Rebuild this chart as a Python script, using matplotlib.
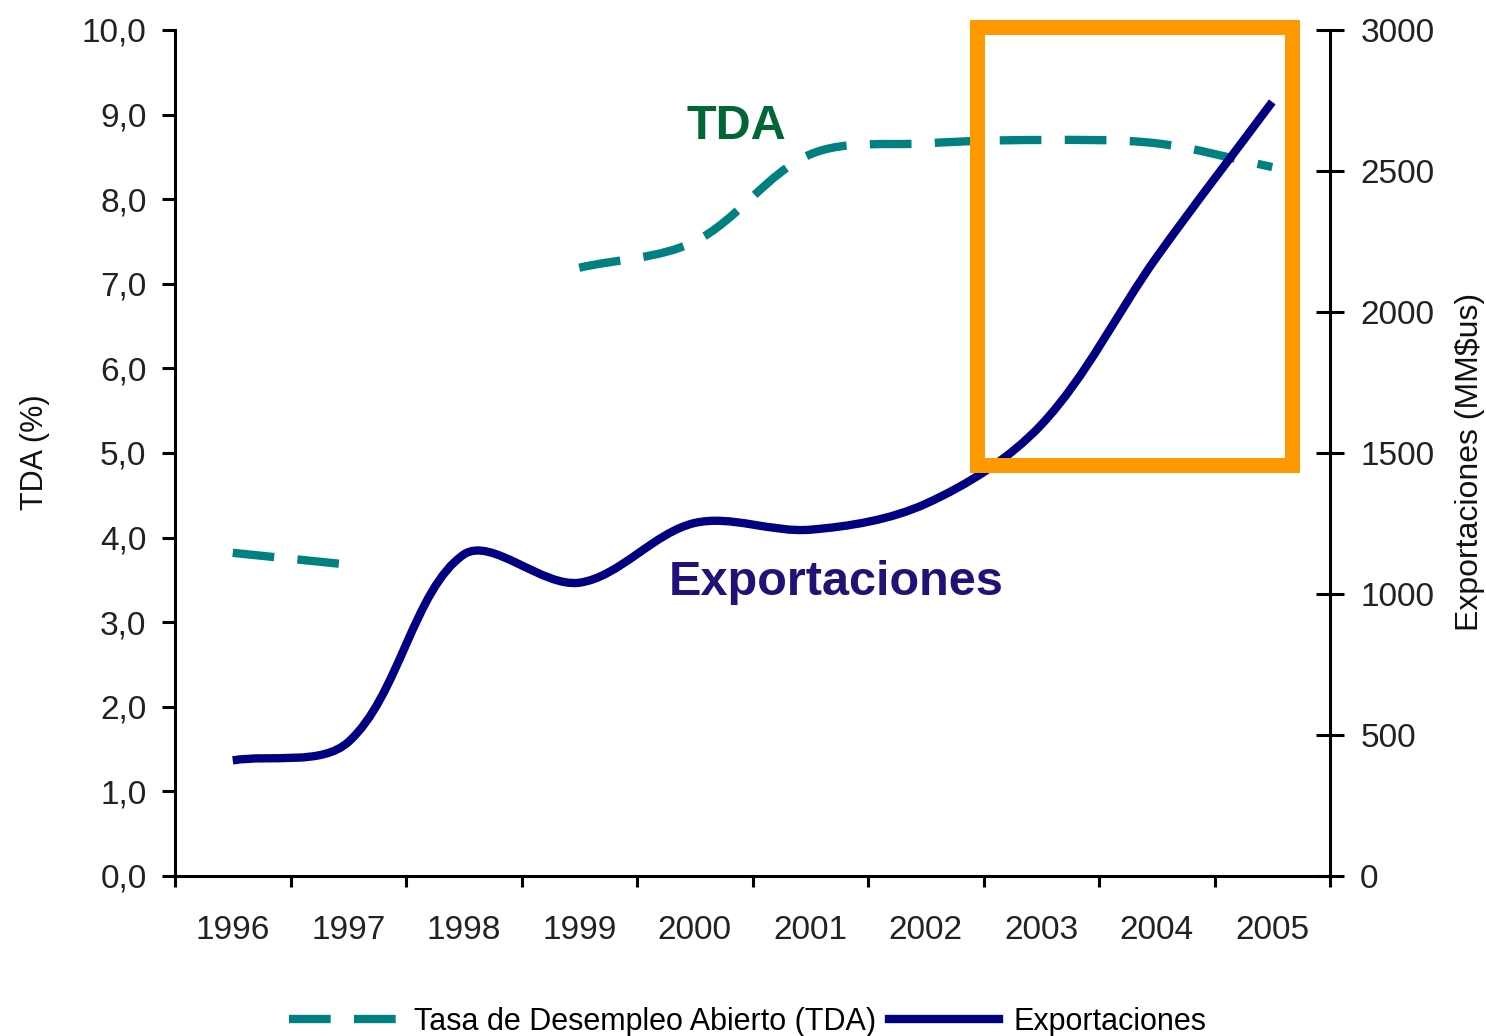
import numpy as np
import matplotlib.pyplot as plt
from matplotlib.path import Path
from matplotlib.patches import PathPatch, Rectangle
from matplotlib.lines import Line2D

plt.rcParams['font.family'] = ['Liberation Sans', 'DejaVu Sans']

anios = ['1996', '1997', '1998', '1999', '2000', '2001', '2002', '2003', '2004', '2005']
tda = [3.82, 3.68, np.nan, 7.19, 7.50, 8.53, 8.66, 8.70, 8.66, 8.38]
exportaciones = [410, 475, 1140, 1040, 1252, 1228, 1320, 1600, 2195, 2745]

color_tda = '#008080'
color_exp = '#000080'


def curva_suave(xs, ys, trans):
    # curva "suavizada" como la de Excel: Bezier con brazos proporcionales
    # a la longitud de cada tramo (calculado en pixeles)
    pts = trans.transform(np.column_stack([xs, ys]))
    n = len(pts)
    verts = [pts[0]]
    codes = [Path.MOVETO]
    for i in range(n - 1):
        p0 = pts[i - 1] if i > 0 else pts[i]
        p1 = pts[i]
        p2 = pts[i + 1]
        p3 = pts[i + 2] if i + 2 < n else pts[i + 1]
        d01 = np.hypot(*(p1 - p0))
        d12 = np.hypot(*(p2 - p1))
        d23 = np.hypot(*(p3 - p2))
        c1 = p1 + (p2 - p0) / 3 * d12 / (d01 + d12)
        c2 = p2 - (p3 - p1) / 3 * d12 / (d12 + d23)
        verts += [c1, c2, p2]
        codes += [Path.CURVE4] * 3
    verts = trans.inverted().transform(np.array(verts))
    return Path(verts, codes)


def tramos(valores):
    # separa la serie donde falta el dato
    grupos, actual = [], []
    for i, v in enumerate(valores):
        if np.isnan(v):
            if actual:
                grupos.append(actual)
            actual = []
        else:
            actual.append(i)
    if actual:
        grupos.append(actual)
    return grupos


fig = plt.figure(figsize=(14.86, 10.36), dpi=100)
ax = fig.add_axes([175 / 1486, 1 - 876 / 1036, 1155 / 1486, 846 / 1036])
ax2 = ax.twinx()

ax.set_xlim(-0.5, 9.5)
ax.set_ylim(0, 10)
ax2.set_ylim(0, 3000)

x = np.arange(len(anios))
estilo_tda = (0, (5, 2.8))

for g in tramos(tda):
    p = curva_suave([x[i] for i in g], [tda[i] for i in g], ax.transData)
    ax.add_patch(PathPatch(p, fill=False, edgecolor=color_tda, lw=6,
                           linestyle=estilo_tda, capstyle='butt'))

p = curva_suave(x, exportaciones, ax2.transData)
ax2.add_patch(PathPatch(p, fill=False, edgecolor=color_exp, lw=6, capstyle='butt'))

ax.set_xlim(-0.5, 9.5)
ax.set_ylim(0, 10)
ax2.set_ylim(0, 3000)

ax.set_yticks(np.arange(0, 11, 1))
ax.set_yticklabels([f'{v:.1f}'.replace('.', ',') for v in range(11)])
ax2.set_yticks(np.arange(0, 3001, 500))

ax.set_xticks(x)
ax.set_xticklabels(anios)
ax.set_xticks(np.arange(-0.5, 10, 1), minor=True)

lbl = dict(labelsize=24, labelcolor='#222222')
ax.tick_params(axis='x', which='major', length=0, pad=28, **lbl)
ax.tick_params(axis='x', which='minor', direction='out', length=8, width=2.2)
ax.tick_params(axis='y', direction='out', length=9.5, width=2.2, pad=11, **lbl)
ax2.tick_params(axis='y', direction='inout', length=19.5, width=2.2, pad=12, **lbl)

for a in (ax, ax2):
    a.spines['top'].set_visible(False)
    for s in ('left', 'right', 'bottom'):
        a.spines[s].set_linewidth(2.2)
ax.spines['right'].set_visible(False)
ax2.spines['left'].set_visible(False)
ax2.spines['bottom'].set_visible(False)

fig.text(35 / 1486, 1 - 452 / 1036, 'TDA (%)', rotation=90, ha='center', va='center',
         fontsize=22, color='#111111')
fig.text(1470 / 1486, 1 - 462 / 1036, 'Exportaciones (MM$us)', rotation=90,
         ha='center', va='center', fontsize=23, color='#111111')

fig.text(736 / 1486, 1 - 139 / 1036, 'TDA', ha='center', va='baseline',
         fontsize=35, fontweight='bold', color='#006633')
fig.text(836 / 1486, 1 - 595 / 1036, 'Exportaciones', ha='center', va='baseline',
         fontsize=35, fontweight='bold', color='#221177')

# recuadro naranja
fig.add_artist(Rectangle((976.5 / 1486, 1 - 464.5 / 1036), 315 / 1486, 438 / 1036,
                         transform=fig.transFigure, fill=False,
                         edgecolor='#FF9900', lw=10.8, zorder=10))

handles = [Line2D([], [], color=color_tda, lw=6, linestyle=estilo_tda),
           Line2D([], [], color=color_exp, lw=6)]
fig.legend(handles, ['Tasa de Desempleo Abierto (TDA)', 'Exportaciones'],
           loc='center', bbox_to_anchor=(748 / 1486, 1 - 1022 / 1036), ncol=2,
           frameon=False, fontsize=22, handlelength=3.6, handletextpad=0.5,
           columnspacing=0.4, borderpad=0)

fig.savefig('out.png', dpi=100)
